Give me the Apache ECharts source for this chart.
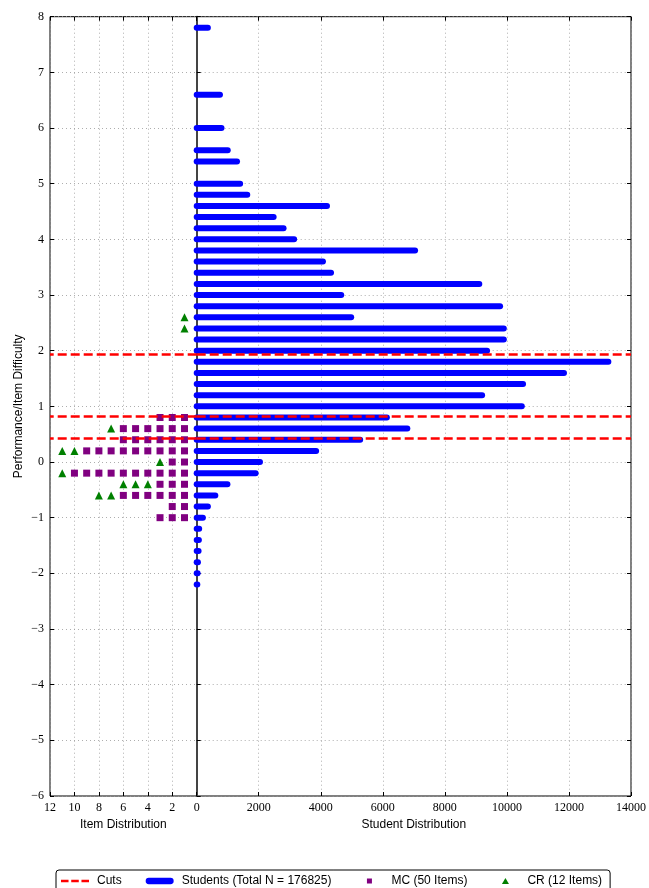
<!DOCTYPE html>
<html>
<head>
<meta charset="utf-8">
<title>Performance / Item Difficulty</title>
<script src="https://cdn.jsdelivr.net/npm/echarts@6/dist/echarts.min.js"></script>
<style>
html, body { margin: 0; padding: 0; background: #fff; }
#chart { width: 649px; height: 888px; }
</style>
</head>
<body>
<div id="chart"></div>
<script>
// students: one bar per ability level
var studentLevels = [7.8, 6.6, 6.0, 5.6, 5.4, 5.0, 4.8, 4.6, 4.4, 4.2, 4.0, 3.8, 3.6, 3.4, 3.2, 3.0, 2.8, 2.6, 2.4, 2.2, 2.0,
	1.8, 1.6, 1.4, 1.2, 1.0, 0.8, 0.6, 0.4, 0.2, 0.0, -0.2, -0.4, -0.6, -0.8, -1.0, -1.2, -1.4, -1.6, -1.8, -2.0, -2.2];
var studentCounts = [360, 750, 800, 1000, 1300, 1400, 1630, 4200, 2480, 2800, 3140, 7040, 4070, 4330, 9110, 4660, 9780, 4980, 9900, 9900, 9360,
	13270, 11840, 10520, 9200, 10480, 6130, 6790, 5270, 3850, 2040, 1900, 990, 600, 360, 200, 80, 70, 60, 40, 30, 20];

// items: how many MC / CR items sit at each difficulty level
var itemLevels = [2.6, 2.4, 0.8, 0.6, 0.4, 0.2, 0.0, -0.2, -0.4, -0.6, -0.8, -1.0];
var mcCounts   = [0,   0,   3,   6,   6,   9,   2,   10,   3,    6,    2,    3];
var crCounts   = [1,   1,   0,   1,   0,   2,   1,   1,    3,    2,    0,    0];

var cutScores = [1.93, 0.83, 0.43];

var itemTicks = { min: 0, max: 12, interval: 2 };
var studentTicks = { min: 0, max: 14000, interval: 2000 };
var yTicks = { min: -6, max: 8, interval: 1 };

// stack the items of a level side by side: MC first, CR after
var mcPoints = [], crPoints = [];
itemLevels.forEach(function (lv, i) {
	for (var k = 1; k <= mcCounts[i]; k++) mcPoints.push([k, lv]);
	for (var j = 1; j <= crCounts[i]; j++) crPoints.push([mcCounts[i] + j, lv]);
});

var studentData = studentLevels.map(function (lv, i) { return [studentCounts[i], lv]; });

var serif = 'Liberation Serif';
var sans = 'Liberation Sans';
var gridDots = { color: '#999', width: 0.8, type: [1, 3] };
var cutStyle = { color: '#ff0000', width: 2.5, type: [9, 4] };
var tickStyle = { show: true, inside: true, length: 4, lineStyle: { color: '#000' } };
var noLine = { show: false, onZero: false };

function plain(v) { return String(v).replace('-', '\u2212'); }

var chart = echarts.init(document.getElementById('chart'), null, { renderer: 'canvas' });

function cutMarks() {
	return {
		silent: true,
		symbol: ['none', 'none'],
		label: { show: false },
		lineStyle: cutStyle,
		animation: false,
		z: 10,
		data: cutScores.map(function (v) { return { yAxis: v }; })
	};
}

// legend icons: the two leading moveTo's fix the 28x7 box so small marks stay centred in it
var iconCuts = 'path://M0,0H7V2.5H0Z M9.5,0H16.5V2.5H9.5Z M19,0H26V2.5H19Z';
var iconStudents = 'path://M3.5,0H27.5A3.5,3.5,0,0,1,27.5,7H3.5A3.5,3.5,0,0,1,3.5,0Z';
var iconMC = 'path://M0,0 M28,7 M11.5,1H16.5V6H11.5Z';
var iconCR = 'path://M0,0 M28,7 M14,0.5L17.5,6.5H10.5Z';

var option = {
	animation: false,
	backgroundColor: '#fff',
	grid: [
		{ left: 50, top: 16.7, width: 146.7, height: 779.3, show: true, borderColor: '#000', borderWidth: 1 },
		{ left: 196.7, top: 16.7, width: 440, height: 779.3, show: true, borderColor: '#000', borderWidth: 1 }
	],
	xAxis: [
		{
			gridIndex: 0, type: 'value', inverse: true,
			min: itemTicks.min, max: itemTicks.max, interval: itemTicks.interval,
			name: 'Item Distribution', nameLocation: 'middle', nameGap: 23,
			nameTextStyle: { fontFamily: sans, fontSize: 12, color: '#000' },
			axisLine: noLine, axisTick: tickStyle,
			axisLabel: { fontFamily: serif, fontSize: 12, color: '#000', margin: 6, formatter: plain },
			splitLine: { show: true, lineStyle: gridDots }
		},
		{
			gridIndex: 1, type: 'value',
			min: studentTicks.min, max: studentTicks.max, interval: studentTicks.interval,
			name: 'Student Distribution', nameLocation: 'middle', nameGap: 23,
			nameTextStyle: { fontFamily: sans, fontSize: 12, color: '#000' },
			axisLine: noLine, axisTick: tickStyle,
			axisLabel: { fontFamily: serif, fontSize: 12, color: '#000', margin: 6, showMinLabel: false, formatter: plain },
			splitLine: { show: true, lineStyle: gridDots }
		},
		{
			gridIndex: 0, type: 'value', inverse: true, position: 'top',
			min: itemTicks.min, max: itemTicks.max, interval: itemTicks.interval,
			axisLine: noLine, axisTick: tickStyle,
			axisLabel: { show: false }, splitLine: { show: false }
		},
		{
			gridIndex: 1, type: 'value', position: 'top',
			min: studentTicks.min, max: studentTicks.max, interval: studentTicks.interval,
			axisLine: noLine, axisTick: tickStyle,
			axisLabel: { show: false }, splitLine: { show: false }
		}
	],
	yAxis: [
		{
			gridIndex: 0, type: 'value', position: 'left',
			min: yTicks.min, max: yTicks.max, interval: yTicks.interval,
			name: 'Performance/Item Difficulty', nameLocation: 'middle', nameGap: 25, nameRotate: 90,
			nameTextStyle: { fontFamily: sans, fontSize: 12, color: '#000' },
			axisLine: noLine, axisTick: tickStyle,
			axisLabel: { fontFamily: serif, fontSize: 12, color: '#000', margin: 6, formatter: plain },
			splitLine: { show: true, lineStyle: gridDots }
		},
		{
			gridIndex: 1, type: 'value', position: 'left',
			min: yTicks.min, max: yTicks.max, interval: yTicks.interval,
			axisLine: { show: true, onZero: false, lineStyle: { color: '#444', width: 2 } },
			axisTick: tickStyle,
			axisLabel: { show: false },
			splitLine: { show: true, lineStyle: gridDots }
		},
		{
			gridIndex: 1, type: 'value', position: 'right',
			min: yTicks.min, max: yTicks.max, interval: yTicks.interval,
			axisLine: noLine, axisTick: tickStyle,
			axisLabel: { show: false }, splitLine: { show: false }
		}
	],
	legend: {
		left: 56, top: 870,
		padding: [5, 8, 5, 5],
		itemGap: 24, itemWidth: 28, itemHeight: 7,
		symbolKeepAspect: true,
		borderColor: '#000', borderWidth: 1, borderRadius: 3,
		backgroundColor: '#fff',
		textStyle: { fontFamily: sans, fontSize: 12, color: '#000', padding: [0, 0, 0, 3] },
		data: [
			{ name: 'Cuts', icon: iconCuts },
			{ name: 'Students (Total N = 176825)', icon: iconStudents },
			{ name: 'MC (50 Items)', icon: iconMC },
			{ name: 'CR (12 Items)', icon: iconCR }
		]
	},
	series: [
		{
			name: 'Cuts', type: 'line', xAxisIndex: 0, yAxisIndex: 0,
			data: [], symbol: 'none', lineStyle: cutStyle, itemStyle: { color: '#ff0000' },
			markLine: cutMarks(), z: 10
		},
		{
			name: 'Cuts', type: 'line', xAxisIndex: 1, yAxisIndex: 1,
			data: [], symbol: 'none', lineStyle: cutStyle, itemStyle: { color: '#ff0000' },
			markLine: cutMarks(), z: 10
		},
		{
			name: 'Students (Total N = 176825)', type: 'custom', xAxisIndex: 1, yAxisIndex: 1,
			data: studentData,
			encode: { x: 0, y: 1 },
			itemStyle: { color: '#0000ff' },
			z: 5,
			renderItem: function (params, api) {
				var a = api.coord([0, api.value(1)]);
				var b = api.coord([api.value(0), api.value(1)]);
				return {
					type: 'line',
					shape: { x1: a[0], y1: a[1], x2: b[0], y2: b[1] },
					style: { stroke: '#0000ff', lineWidth: 6, lineCap: 'round' }
				};
			}
		},
		{
			name: 'MC (50 Items)', type: 'scatter', xAxisIndex: 0, yAxisIndex: 0,
			data: mcPoints, symbol: 'rect', symbolSize: 7,
			itemStyle: { color: '#800080', opacity: 1 }, z: 4
		},
		{
			name: 'CR (12 Items)', type: 'scatter', xAxisIndex: 0, yAxisIndex: 0,
			data: crPoints, symbol: 'triangle', symbolSize: 8,
			itemStyle: { color: '#008000', opacity: 1 }, z: 4
		}
	]
};

chart.setOption(option);
</script>
</body>
</html>
